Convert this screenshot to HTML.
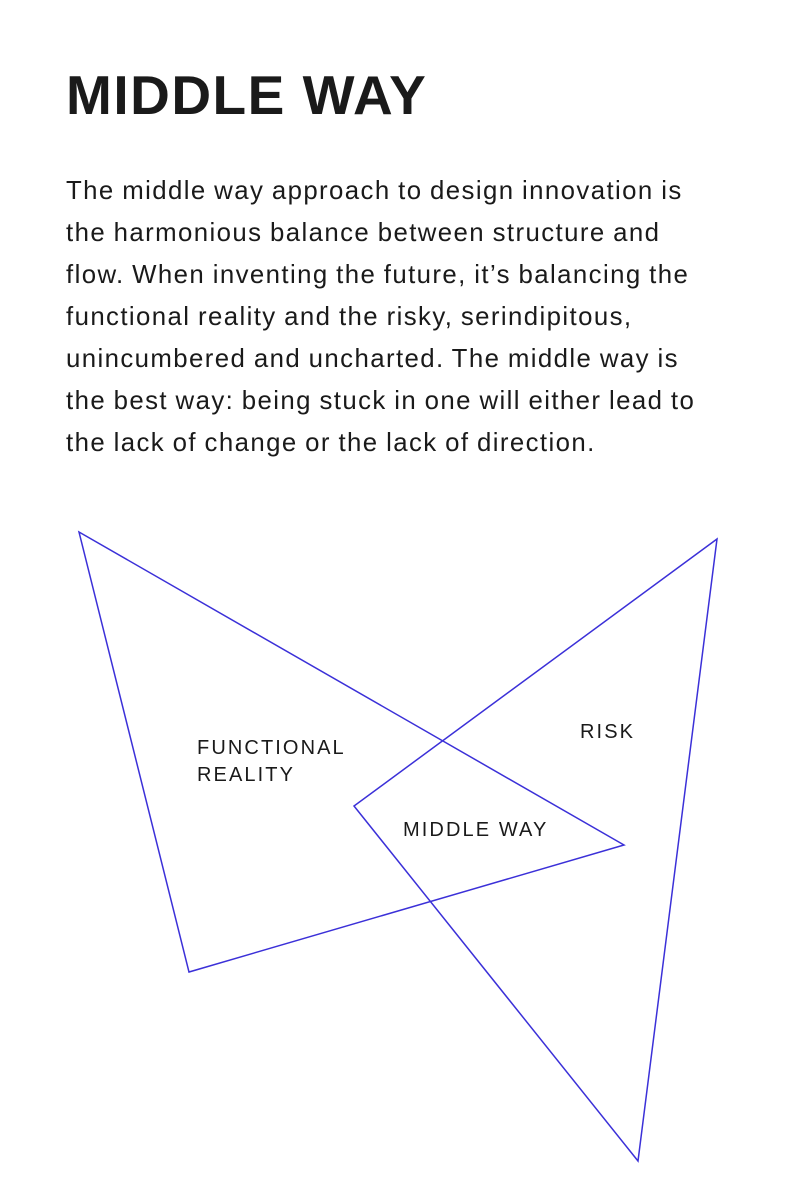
<!DOCTYPE html>
<html>
<head>
<meta charset="utf-8">
<style>
  html, body { margin:0; padding:0; background:#fff; }
  body { width:800px; height:1200px; position:relative; overflow:hidden; font-family:"Liberation Sans", sans-serif; color:#1a1a1a; }
  h1 { position:absolute; left:66px; top:62px; margin:0; font-size:55px; font-weight:bold; letter-spacing:1.5px; line-height:66px; }
  p { position:absolute; left:66px; top:170px; margin:0; width:720px; font-size:25.8px; line-height:42px; letter-spacing:1.4px; word-spacing:-1px; white-space:nowrap; }
  svg { position:absolute; left:0; top:0; }
  svg text { font-family:"Liberation Sans", sans-serif; font-size:20px; fill:#1a1a1a; letter-spacing:2.1px; }
</style>
</head>
<body>
<h1>MIDDLE WAY</h1>
<p>The middle way approach to design innovation is<br>the harmonious balance between structure and<br>flow. When inventing the future, it’s balancing the<br>functional reality and the risky, serindipitous,<br>unincumbered and uncharted. The middle way is<br>the best way: being stuck in one will either lead to<br>the lack of change or the lack of direction.</p>
<svg width="800" height="1200" viewBox="0 0 800 1200">
  <polygon points="79,532 624,845 189,972" fill="none" stroke="#3b30d8" stroke-width="1.5"/>
  <polygon points="717,539 354,806 638,1161" fill="none" stroke="#3b30d8" stroke-width="1.5"/>
  <text x="197" y="754">FUNCTIONAL</text>
  <text x="197" y="781">REALITY</text>
  <text x="580" y="738">RISK</text>
  <text x="403" y="836">MIDDLE WAY</text>
</svg>
</body>
</html>
